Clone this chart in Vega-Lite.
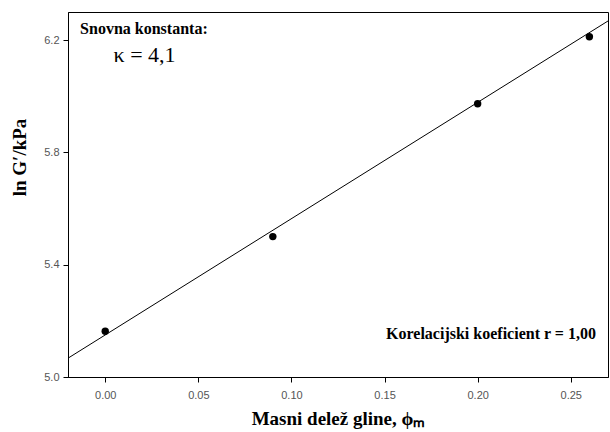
{
  "$schema": "https://vega.github.io/schema/vega-lite/v6.json",
  "width": 540,
  "height": 365,
  "autosize": {"type": "none"},
  "padding": {"left": 68, "top": 12, "right": 2, "bottom": 55},
  "background": "white",
  "config": {
    "view": {"stroke": "black", "strokeWidth": 1},
    "axis": {
      "domainColor": "black",
      "tickColor": "black",
      "tickSize": 5,
      "grid": false,
      "labelFont": "Liberation Sans",
      "labelFontSize": 11,
      "labelColor": "#555",
      "titleFont": "Times New Roman, Liberation Serif, serif",
      "titleFontSize": 19,
      "titleFontWeight": "bold",
      "titleColor": "black"
    }
  },
  "datasets": {
    "points": [
      {"phi": 0.0, "lnG": 5.163},
      {"phi": 0.09, "lnG": 5.5},
      {"phi": 0.2, "lnG": 5.973},
      {"phi": 0.26, "lnG": 6.212}
    ],
    "fit": [
      {"phi": -0.02, "lnG": 5.067},
      {"phi": 0.27, "lnG": 6.268}
    ]
  },
  "layer": [
    {
      "data": {"name": "fit"},
      "mark": {"type": "line", "color": "black", "strokeWidth": 1, "clip": true},
      "encoding": {
        "x": {"field": "phi", "type": "quantitative"},
        "y": {"field": "lnG", "type": "quantitative"}
      }
    },
    {
      "data": {"name": "points"},
      "mark": {"type": "point", "filled": true, "color": "black", "opacity": 1, "size": 55},
      "encoding": {
        "x": {
          "field": "phi",
          "type": "quantitative",
          "scale": {"domain": [-0.02, 0.27], "nice": false, "zero": false},
          "axis": {
            "values": [0, 0.05, 0.1, 0.15, 0.2, 0.25],
            "format": ".2f",
            "labelPadding": 7,
            "title": "Masni delež gline, ϕₘ",
            "titlePadding": 9
          }
        },
        "y": {
          "field": "lnG",
          "type": "quantitative",
          "scale": {"domain": [5.0, 6.3], "nice": false, "zero": false},
          "axis": {
            "values": [5.0, 5.4, 5.8, 6.2],
            "format": ".1f",
            "labelPadding": 4,
            "title": "ln G′/kPa",
            "titleY": 145,
            "titlePadding": 14
          }
        }
      }
    },
    {
      "data": {"values": [{"t": "Snovna konstanta:"}]},
      "mark": {"type": "text", "align": "left", "baseline": "alphabetic", "font": "Times New Roman, Liberation Serif, serif", "fontSize": 16, "fontWeight": "bold", "color": "black"},
      "encoding": {
        "x": {"datum": -0.0135},
        "y": {"datum": 6.222},
        "text": {"field": "t"}
      }
    },
    {
      "data": {"values": [{"t": "κ = 4,1"}]},
      "mark": {"type": "text", "align": "left", "baseline": "alphabetic", "font": "Times New Roman, Liberation Serif, serif", "fontSize": 22, "color": "black"},
      "encoding": {
        "x": {"datum": 0.0045},
        "y": {"datum": 6.122},
        "text": {"field": "t"}
      }
    },
    {
      "data": {"values": [{"t": "Korelacijski koeficient r = 1,00"}]},
      "mark": {"type": "text", "align": "right", "baseline": "alphabetic", "font": "Times New Roman, Liberation Serif, serif", "fontSize": 16, "fontWeight": "bold", "color": "black"},
      "encoding": {
        "x": {"datum": 0.2635},
        "y": {"datum": 5.135},
        "text": {"field": "t"}
      }
    }
  ]
}
